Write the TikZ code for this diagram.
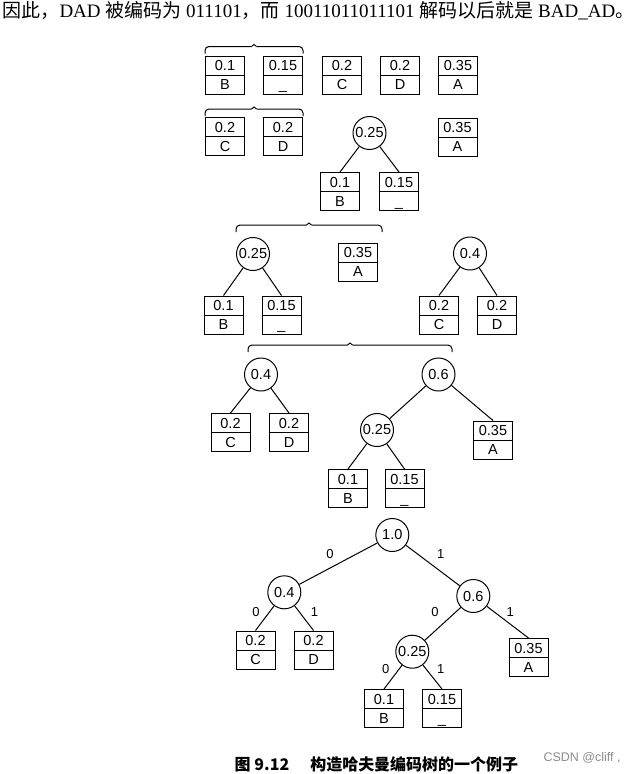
\documentclass[tikz,border=0pt]{standalone}
\usepackage{fontspec}
\setmainfont{Liberation Serif}
\newfontfamily\cjk{Noto Sans CJK SC}
\newfontfamily\hel{Liberation Sans}
\newcommand\leaf[5]{%
  \node[leafbox] (#1) at (#2,#3) {};
  \draw (#1.west) -- (#1.east);
  \node[btxt] at ([yshift=9.5pt]#1.center) {#4};
  \node[btxt] at ([yshift=-9.5pt]#1.center) {#5};
}
\newcommand\grp[3]{%
  \pgfmathsetmacro\gm{(#1+#2)/2}
  \draw[rounded corners=4pt] (#1,#3+7) |- (\gm-2.5,#3);
  \draw (\gm-2.5,#3) -- (\gm,#3-2) -- (\gm+2.5,#3);
  \draw[rounded corners=4pt] (\gm+2.5,#3) -| (#2,#3+7);
}
\begin{document}
\begin{tikzpicture}[x=1pt,y=-1pt,line width=1pt,
  leafbox/.style={draw, minimum width=39pt, minimum height=38pt, inner sep=0pt},
  btxt/.style={font=\hel\fontsize{14.5}{14.5}\selectfont, inner sep=0pt, text height=10.4pt, text depth=0pt},
  inode/.style={draw, circle, minimum size=33pt, inner sep=0pt, font=\hel\fontsize{14.5}{14.5}\selectfont},
  elbl/.style={font=\hel\fontsize{13}{13}\selectfont, inner sep=0pt}]
\useasboundingbox (0,0) rectangle (639,774);

\node[anchor=west, inner sep=0pt, font=\fontsize{19}{19}\selectfont] (top) at (2,11)
  {{\cjk 因此，}DAD {\cjk 被编码为} 011101{\cjk ，而} 10011011011101 {\cjk 解码以后就是} BAD\_AD{\cjk 。}};

% row 1
\grp{205}{303}{46.5}
\leaf{b1}{225}{75}{0.1}{B}
\leaf{u1}{283}{75}{0.15}{\_}
\leaf{c1}{342}{75}{0.2}{C}
\leaf{d1}{400}{75}{0.2}{D}
\leaf{a1}{458}{75}{0.35}{A}

% row 2
\grp{205}{303}{109}
\leaf{c2}{225}{136.5}{0.2}{C}
\leaf{d2}{283}{136.5}{0.2}{D}
\node[inode] (n2) at (369.5,133) {0.25};
\leaf{a2}{457.5}{137}{0.35}{A}
\leaf{b2}{340}{191.5}{0.1}{B}
\leaf{u2}{399}{191.5}{0.15}{\_}
\draw (n2) -- (b2.north);
\draw (n2) -- (u2.north);

% row 3
\grp{236}{382}{225}
\node[inode] (n3) at (253,254) {0.25};
\leaf{a3}{358}{262}{0.35}{A}
\leaf{b3}{223.5}{315}{0.1}{B}
\leaf{u3}{281.5}{315}{0.15}{\_}
\draw (n3) -- (b3.north);
\draw (n3) -- (u3.north);
\node[inode] (m3) at (470,253.5) {0.4};
\leaf{c3}{439}{315}{0.2}{C}
\leaf{d3}{497}{315}{0.2}{D}
\draw (m3) -- (c3.north);
\draw (m3) -- (d3.north);

% row 4
\grp{248}{452}{345}
\node[inode] (m4) at (261,374.5) {0.4};
\node[inode] (s4) at (438.5,374.5) {0.6};
\leaf{c4}{230.5}{432.5}{0.2}{C}
\leaf{d4}{289}{432.5}{0.2}{D}
\node[inode] (n4) at (377,430) {0.25};
\leaf{a4}{493}{440}{0.35}{A}
\leaf{b4}{348}{488.5}{0.1}{B}
\leaf{u4}{404.5}{488.5}{0.15}{\_}
\draw (m4) -- (c4.north);
\draw (m4) -- (d4.north);
\draw (s4) -- (n4);
\draw (s4) -- (a4.north);
\draw (n4) -- (b4.north);
\draw (n4) -- (u4.north);

% row 5
\node[inode] (r5) at (392.3,535) {1.0};
\node[inode] (m5) at (284.3,592.3) {0.4};
\node[inode] (s5) at (473.3,596) {0.6};
\leaf{c5}{255.5}{650}{0.2}{C}
\leaf{d5}{313.5}{650}{0.2}{D}
\node[inode] (n5) at (412.3,651.7) {0.25};
\leaf{a5}{528.5}{657.5}{0.35}{A}
\leaf{b5}{384}{708.5}{0.1}{B}
\leaf{u5}{442}{708.5}{0.15}{\_}
\draw (r5) -- (m5) node[elbl, midway, xshift=-8.3pt, yshift=9.6pt] {0};
\draw (r5) -- (s5) node[elbl, midway, xshift=7.9pt, yshift=11.5pt] {1};
\draw (m5) -- (c5.north) node[elbl, midway, xshift=-8.7pt, yshift=6.3pt] {0};
\draw (m5) -- (d5.north) node[elbl, midway, xshift=10.3pt, yshift=6.3pt] {1};
\draw (s5) -- (n5) node[elbl, midway, xshift=-7.8pt, yshift=12.2pt] {0};
\draw (s5) -- (a5.north) node[elbl, midway, xshift=2.6pt, yshift=10.5pt] {1};
\draw (n5) -- (b5.north) node[elbl, midway, xshift=-7.3pt, yshift=7.9pt] {0};
\draw (n5) -- (u5.north) node[elbl, midway, xshift=8.3pt, yshift=7.8pt] {1};

\node[inner sep=0pt, font=\cjk\bfseries\fontsize{16}{16}\selectfont] (cap) at (376.5,764)
  {图 9.12\hspace{21pt}构造哈夫曼编码树的一个例子};
\node[anchor=west, inner sep=0pt, text=black!45, font=\hel\fontsize{12.5}{12.5}\selectfont] (wm) at (543,758) {CSDN @cliff ,};
\end{tikzpicture}
\end{document}
